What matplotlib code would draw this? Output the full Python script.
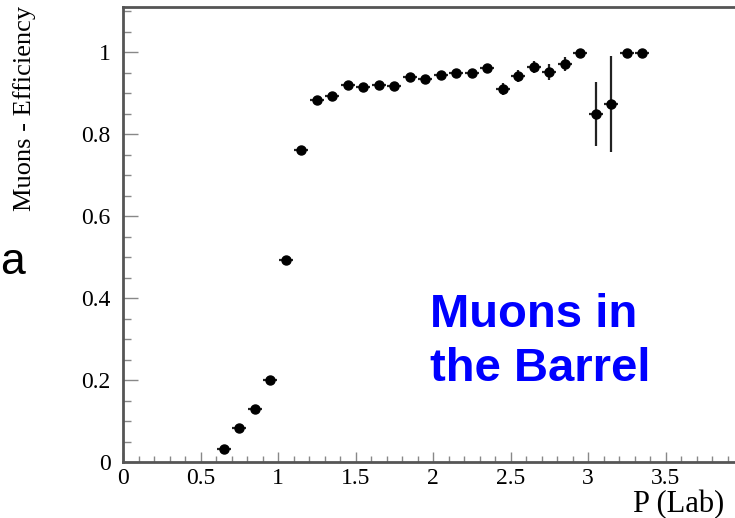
import numpy as np
import matplotlib
matplotlib.use('Agg')
import matplotlib.pyplot as plt
from matplotlib.ticker import MultipleLocator

plt.rcParams.update({
    'font.family': 'serif',
    'font.serif': ['Liberation Serif', 'DejaVu Serif'],
    'axes.linewidth': 2.0,
})

# momentum bin centres (GeV/c) and muon efficiency
p_lab = [0.65, 0.75, 0.85, 0.95, 1.05, 1.15, 1.25, 1.35, 1.45, 1.55,
         1.65, 1.75, 1.85, 1.95, 2.05, 2.15, 2.25, 2.35, 2.45, 2.55,
         2.65, 2.75, 2.85, 2.95, 3.05, 3.15, 3.25, 3.35]
eff = [0.032, 0.083, 0.130, 0.200, 0.493, 0.761, 0.883, 0.892, 0.920, 0.915,
       0.919, 0.917, 0.939, 0.934, 0.943, 0.950, 0.949, 0.960, 0.910, 0.941,
       0.963, 0.951, 0.971, 0.999, 0.849, 0.873, 0.999, 0.999]
eff_err = [0.004, 0.005, 0.006, 0.006, 0.007, 0.006, 0.006, 0.006, 0.006, 0.006,
           0.006, 0.006, 0.006, 0.006, 0.006, 0.007, 0.007, 0.008, 0.015, 0.015,
           0.015, 0.020, 0.017, 0.004, 0.078, 0.117, 0.004, 0.004]
bin_half = 0.045

xticks = [0, 0.5, 1, 1.5, 2, 2.5, 3, 3.5]
xticklabels = ['0', '0.5', '1', '1.5', '2', '2.5', '3', '3.5']
yticks = [0, 0.2, 0.4, 0.6, 0.8, 1.0]
yticklabels = ['0', '0.2', '0.4', '0.6', '0.8', '1']

W, H = 735, 518
fig = plt.figure(figsize=(W / 100, H / 100), dpi=100)
# axes runs off the right edge, like the cropped original
ax = fig.add_axes([123 / W, 56 / H, 620 / W, 455 / H])

ax.errorbar(p_lab, eff, yerr=eff_err, xerr=bin_half, fmt='o', color='black',
            ecolor='#222222', ms=6.5, elinewidth=1.6, capsize=0, zorder=3)

ax.set_xlim(0, 4)
ax.set_ylim(0, 1.11)
ax.set_xticks(xticks)
ax.set_xticklabels(xticklabels)
ax.set_yticks(yticks)
ax.set_yticklabels(yticklabels)
ax.xaxis.set_minor_locator(MultipleLocator(0.1))
ax.yaxis.set_minor_locator(MultipleLocator(0.05))

for s in ax.spines.values():
    s.set_color('#555555')
ax.tick_params(axis='both', which='both', direction='in', color='#888888',
               width=1.0, labelsize=17)
ax.tick_params(axis='x', which='major', length=7.5, pad=4)
ax.tick_params(axis='x', which='minor', length=4.5)
ax.tick_params(axis='y', which='major', length=11, pad=9)
ax.tick_params(axis='y', which='minor', length=6)
ax.tick_params(top=False, right=False)

fig.text(25 / W, 1 - 108 / H, 'Muons - Efficiency', rotation=90, fontsize=19,
         ha='center', va='center')
fig.text(633 / W, 1 - 512 / H, 'P (Lab)', fontsize=22, ha='left', va='baseline')
fig.text(0 / W, 1 - 263 / H, 'a', fontsize=32, family='Liberation Sans',
         ha='left', va='center')
fig.text(430 / W, 1 - 327 / H, 'Muons in', fontsize=34, color='#0000ff',
         family='Liberation Sans', weight='bold', ha='left', va='baseline')
fig.text(430 / W, 1 - 381 / H, 'the Barrel', fontsize=34, color='#0000ff',
         family='Liberation Sans', weight='bold', ha='left', va='baseline')

fig.savefig('out.png', dpi=100)
